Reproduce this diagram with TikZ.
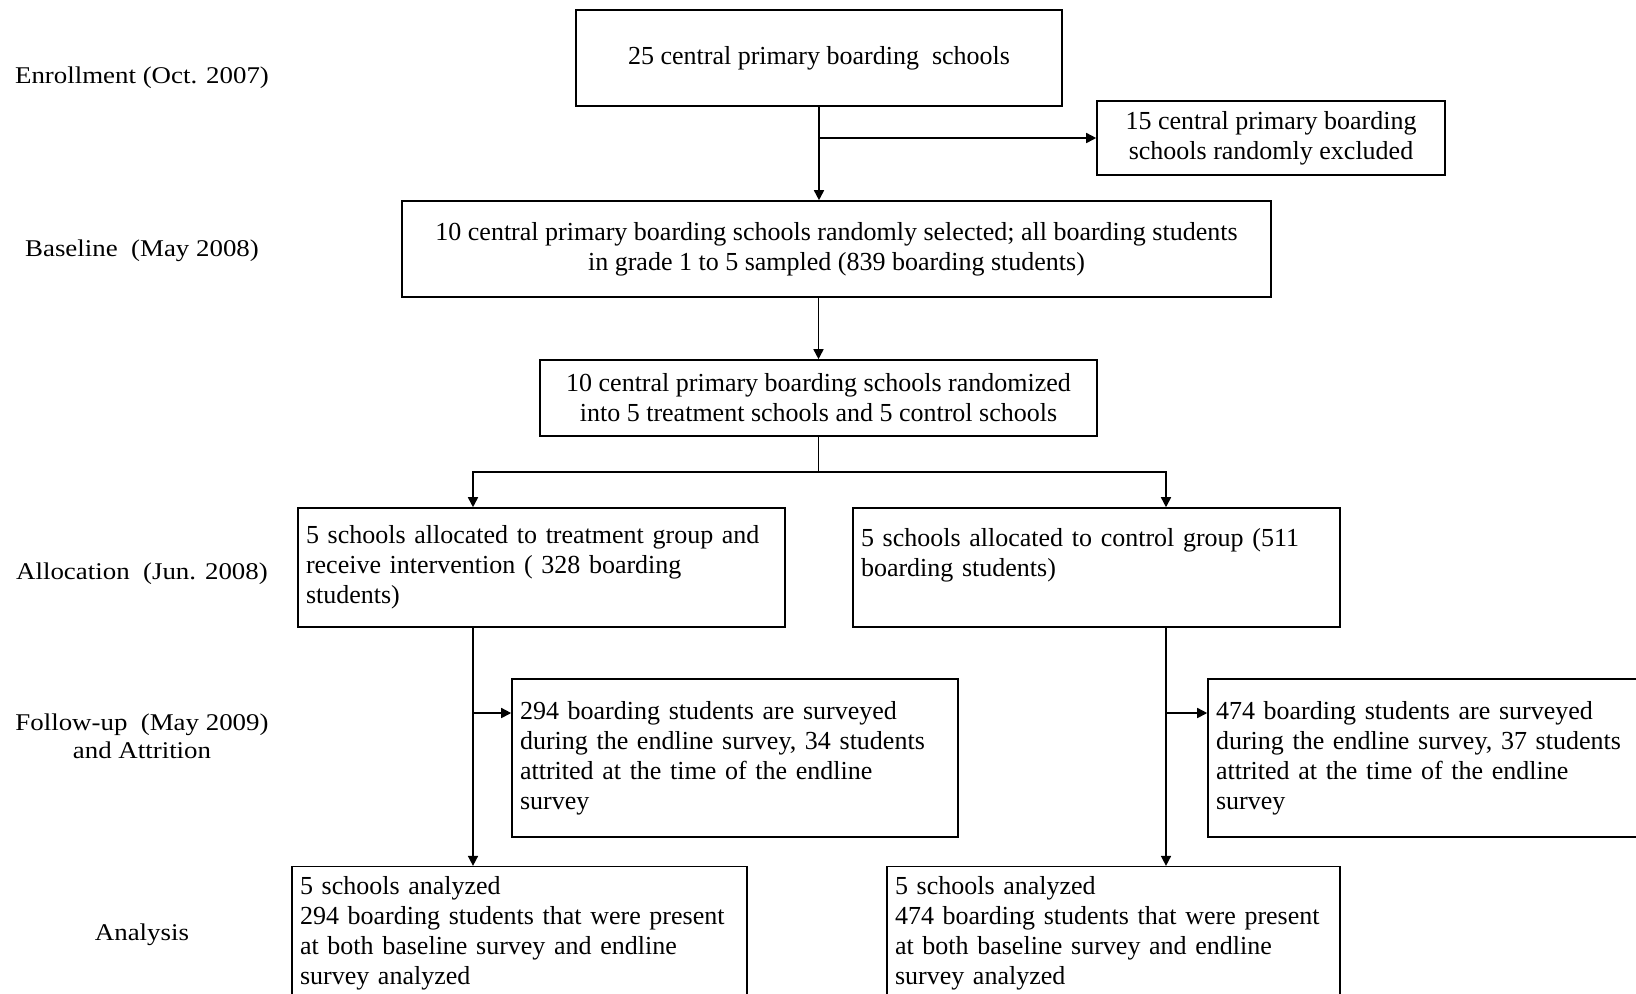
\documentclass[tikz,border=0pt]{standalone}
\usepackage{fontspec}
\setmainfont{Liberation Serif}
\newfontfamily\labelfont[FakeStretch=1.12]{Liberation Serif}
\usetikzlibrary{arrows.meta}
\tikzset{
  box/.style={draw, line width=0.8pt, font=\fontsize{13}{15}\selectfont, inner sep=5pt, align=center},
  lbox/.style={box, align=left, inner xsep=4pt, text width=#1},
  stage/.style={font=\labelfont\fontsize{12}{14}\selectfont, align=center},
  flow/.style={-{Triangle[length=5pt,width=5pt]}, line width=0.8pt}
}
\begin{document}
\begin{tikzpicture}[x=0.5pt,y=-0.5pt]
  \clip (0,0) rectangle (1636,993);
  % stage labels on the left
  \node[stage] (stEnrl) at (142,78) {Enrollment (Oct. 2007)};
  \node[stage] (stBase) at (142,251) {Baseline\ \ (May 2008)};
  \node[stage] (stAlloc) at (142,574) {Allocation\ \ (Jun. 2008)};
  \node[stage] (stFollow) at (142,736) {Follow-up\ \ (May 2009)\\and Attrition};
  \node[stage] (stAnal) at (142,935) {Analysis};
  % boxes
  \node[box, minimum width=243pt, minimum height=48pt] (enroll) at (819,58) {25 central primary boarding\ \ schools};
  \node[box, minimum width=174pt, minimum height=32pt] (excl) at (1271,138) {15 central primary boarding\\schools randomly excluded};
  \node[box, minimum width=434.5pt, minimum height=48pt] (base) at (836.5,249) {10 central primary boarding schools randomly selected; all boarding students\\in grade 1 to 5 sampled (839 boarding students)};
  \node[box, minimum width=278.5pt, minimum height=38pt] (rand) at (818.5,398) {10 central primary boarding schools randomized\\into 5 treatment schools and 5 control schools};
  \node[lbox=235.5pt, minimum height=59.5pt] (treat) at (541.5,567.5) {5 schools allocated to treatment group and\\receive intervention ( 328 boarding\\students)};
  \node[lbox=235.5pt, minimum height=59.5pt] (ctrl) at (1096.5,567.5) {5 schools allocated to control group (511\\boarding students)\\\mbox{}};
  \node[lbox=215pt, minimum height=79pt] (surv1) at (735,758) {294 boarding students are surveyed\\during the endline survey, 34 students\\attrited at the time of the endline\\survey};
  \node[lbox=215pt, minimum height=79pt] (surv2) at (1431,758) {474 boarding students are surveyed\\during the endline survey, 37 students\\attrited at the time of the endline\\survey};
  \node[lbox=219.5pt, minimum height=64.5pt] (anal1) at (519.5,933.5) {5 schools analyzed\\294 boarding students that were present\\at both baseline survey and endline\\survey analyzed};
  \node[lbox=218.5pt, minimum height=64.5pt] (anal2) at (1113.5,933.5) {5 schools analyzed\\474 boarding students that were present\\at both baseline survey and endline\\survey analyzed};
  % branch points
  \coordinate (colT) at (473,713);
  \coordinate (colC) at (1166,713);
  % connectors
  \draw[flow] (enroll.south) -- (enroll.south |- base.north);
  \draw[flow] (enroll.south |- excl.west) -- (excl.west);
  \draw[flow] (base.south -| rand.north) -- (rand.north);
  \draw[line width=0.8pt] (rand.south) -- ++(0,35) coordinate (split);
  \draw[flow] (split) -| (colT |- treat.north);
  \draw[flow] (split) -| (colC |- ctrl.north);
  \draw[flow] (colT |- treat.south) -- (colT |- anal1.north);
  \draw[flow] (colC |- ctrl.south) -- (colC |- anal2.north);
  \draw[flow] (colT) -- (colT -| surv1.west);
  \draw[flow] (colC) -- (colC -| surv2.west);
\end{tikzpicture}
\end{document}
